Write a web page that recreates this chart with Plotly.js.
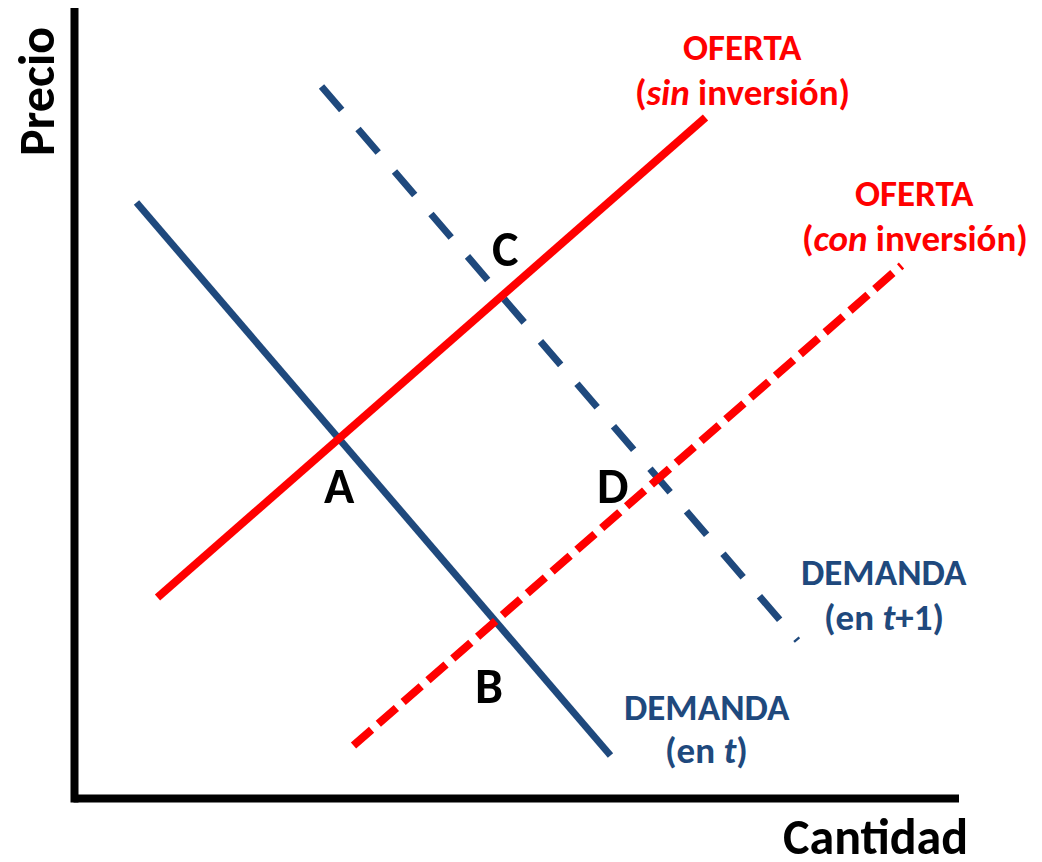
<!DOCTYPE html>
<html>
<head>
<meta charset="utf-8">
<script src="https://cdn.plot.ly/plotly-3.0.1.min.js"></script>
<style>
html,body{margin:0;padding:0;background:#fff;}
#chart{width:1042px;height:862px;}
</style>
</head>
<body>
<div id="chart"></div>
<script>
// Cantidad (x) and Precio (y) values
const demandT_q   = [62, 536];
const demandT_p   = [596, 43];
const demandT1_q  = [247, 723];
const demandT1_p  = [712, 158];
const supplySin_q = [83, 631];
const supplySin_p = [201, 681];
const supplyCon_q = [279, 827];
const supplyCon_p = [53, 533];

// Equilibrium point labels
const pointNames = ['A', 'B', 'C', 'D'];
const pointQ = [265, 414, 430, 538];
const pointP = [313, 113, 550, 313];

const BLUE = '#1F497D';
const RED = '#FF0000';
const FONT = 'Carlito, Lato, sans-serif';

const traces = [
  {x: demandT_q, y: demandT_p, mode: 'lines', line: {color: BLUE, width: 7}},
  {x: demandT1_q, y: demandT1_p, mode: 'lines', line: {color: BLUE, width: 7, dash: '31px,25px'}},
  {x: supplySin_q, y: supplySin_p, mode: 'lines', line: {color: RED, width: 8}},
  {x: supplyCon_q, y: supplyCon_p, mode: 'lines', line: {color: RED, width: 8, dash: '24px,9px'}}
];

function ann(text, x, y, size, color, extra) {
  return Object.assign({
    text: text, x: x, y: y, xref: 'x', yref: 'y', showarrow: false,
    xanchor: 'center', yanchor: 'middle',
    font: {family: FONT, size: size, color: color, weight: 'bold'}
  }, extra || {});
}

const annotations = [
  ann('<b>Precio</b>', -38, 707, 50, '#000', {textangle: -90}),
  ann('<b>Cantidad</b>', 801, -38, 50, '#000'),
  ann('<b>OFERTA</b>', 668, 751, 37, RED),
  ann('<b>(<i>sin</i> inversión)</b>', 668, 706, 37, RED),
  ann('<b>OFERTA</b>', 840, 605, 37, RED),
  ann('<b>(<i>con</i> inversión)</b>', 840, 560, 37, RED),
  ann('<b>DEMANDA</b>', 809, 226, 37, BLUE),
  ann('<b>(en <i>t</i>+1)</b>', 809, 181, 37, BLUE),
  ann('<b>DEMANDA</b>', 632, 91, 37, BLUE),
  ann('<b>(en <i>t</i>)</b>', 632, 48, 37, BLUE)
];
pointNames.forEach((n, i) => annotations.push(ann('<b>' + n + '</b>', pointQ[i], pointP[i], 50, '#000')));

const layout = {
  width: 1042, height: 862,
  margin: {l: 0, r: 0, t: 0, b: 0},
  paper_bgcolor: '#fff', plot_bgcolor: '#fff',
  showlegend: false,
  xaxis: {range: [-74.5, 967.5], visible: false, fixedrange: true},
  yaxis: {range: [-63.5, 798.5], visible: false, fixedrange: true},
  shapes: [
    {type: 'line', xref: 'x', yref: 'y', x0: 0, x1: 0, y0: -4, y1: 790.5, line: {color: '#000', width: 8}},
    {type: 'line', xref: 'x', yref: 'y', x0: -1, x1: 884.5, y0: 0, y1: 0, line: {color: '#000', width: 8}}
  ],
  annotations: annotations
};

Plotly.newPlot('chart', traces, layout, {displayModeBar: false, staticPlot: true});
</script>
</body>
</html>
